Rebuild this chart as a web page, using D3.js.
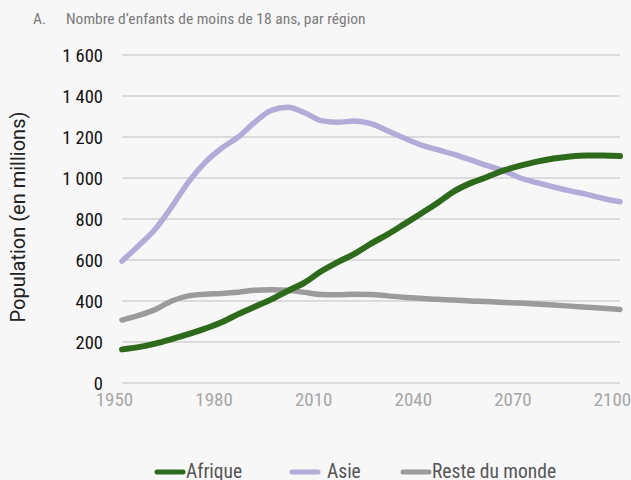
<!DOCTYPE html>
<html lang="fr">
<head>
<meta charset="utf-8">
<title>Nombre d'enfants de moins de 18 ans, par région</title>
<script src="https://d3js.org/d3.v7.min.js"></script>
<style>
  body { margin: 0; background: #f7f7f7; }
  svg { display: block; }
  .cond { font-family: "Roboto Condensed", "Liberation Sans Narrow", "Arial Narrow", Roboto, sans-serif; font-stretch: condensed; }
</style>
</head>
<body>
<div id="chart"></div>
<script>
// années (pas de 5 ans)
var years = d3.range(1950, 2101, 5);

// millions d'enfants de moins de 18 ans
var afrique = [164, 175, 192, 214, 238, 265, 296, 336, 372, 408, 450, 490, 545, 590, 630, 680,
  725, 775, 826, 878, 935, 975, 1005, 1037, 1060, 1080, 1095, 1105, 1110, 1110, 1107];
var asie = [595, 670, 750, 860, 980, 1075, 1145, 1200, 1272, 1330, 1345, 1318, 1280, 1272, 1278, 1265,
  1230, 1195, 1162, 1138, 1115, 1088, 1060, 1035, 1000, 977, 956, 937, 920, 900, 884];
var reste = [307, 330, 358, 400, 425, 433, 437, 443, 452, 455, 452, 442, 432, 430, 433, 432,
  425, 418, 413, 408, 405, 400, 397, 393, 390, 385, 380, 375, 370, 365, 359];

var seriesNames = ["Afrique", "Asie", "Reste du monde"];
var seriesColors = ["#2e6a1c", "#b1acd8", "#9b9b9b"];
var yTicks = [0, 200, 400, 600, 800, 1000, 1200, 1400, 1600];
var xTicks = [1950, 1980, 2010, 2040, 2070, 2100];

var W = 631, H = 480;
var margin = { top: 55, right: 11, bottom: 97, left: 122 };
var width = W - margin.left - margin.right,
    height = H - margin.top - margin.bottom;

var svg = d3.select("#chart").append("svg")
    .attr("width", W)
    .attr("height", H);

svg.append("rect").attr("width", W).attr("height", H).attr("fill", "#f7f7f7");

// titre
svg.append("text").attr("class", "cond")
    .attr("x", 33).attr("y", 24)
    .attr("fill", "#7a7a7a").style("font-size", "15.5px")
    .text("A.");
svg.append("text").attr("class", "cond")
    .attr("x", 66).attr("y", 24)
    .attr("fill", "#7a7a7a").style("font-size", "15.5px")
    .text("Nombre d\u2019enfants de moins de 18 ans, par région");

var g = svg.append("g")
    .attr("transform", "translate(" + margin.left + "," + margin.top + ")");

var x = d3.scaleLinear().domain([1950, 2100]).range([0, width]);
var y = d3.scaleLinear().domain([0, 1600]).range([height, 0]);

// grille
g.selectAll(".grid")
    .data(yTicks)
    .enter()
    .append("line")
    .attr("x1", 0)
    .attr("x2", width)
    .attr("y1", function(d) { return y(d); })
    .attr("y2", function(d) { return y(d); })
    .attr("stroke", "#d2d2d2")
    .attr("stroke-width", 1.3);

// axe y
var yAxis = g.append("g")
    .call(d3.axisLeft(y).tickValues(yTicks).tickSize(0).tickPadding(19)
      .tickFormat(function(d) { return d >= 1000 ? d3.format(",")(d).replace(",", " ") : d; }));
yAxis.select(".domain").remove();
yAxis.selectAll("text").attr("class", "cond")
    .attr("fill", "#111").style("font-size", "18.5px").attr("dy", "0.36em");

// axe x
var xAxis = g.append("g")
    .attr("transform", "translate(0," + height + ")")
    .call(d3.axisBottom(x).tickValues(xTicks).tickSize(0).tickPadding(10).tickFormat(d3.format("d")));
xAxis.select(".domain").remove();
xAxis.selectAll("text").attr("class", "cond")
    .attr("fill", "#a6a6a6").style("font-size", "19px").attr("dx", "-8");

// titre axe y
svg.append("text")
    .attr("transform", "translate(25," + (margin.top + height / 2 - 2) + ") rotate(-90)")
    .attr("text-anchor", "middle")
    .attr("fill", "#222")
    .style("font-family", "Roboto, sans-serif")
    .style("font-size", "20px")
    .text("Population (en millions)");

// courbes
var line = d3.line()
    .x(function(d, i) { return x(years[i]); })
    .y(function(d) { return y(d); })
    .curve(d3.curveMonotoneX);

[reste, asie, afrique].forEach(function(s) {
  var idx = s === afrique ? 0 : (s === asie ? 1 : 2);
  g.append("path")
    .datum(s)
    .attr("fill", "none")
    .attr("stroke", seriesColors[idx])
    .attr("stroke-width", idx === 0 ? 6 : 5.5)
    .attr("stroke-linecap", "round")
    .attr("stroke-linejoin", "round")
    .attr("d", line);
});

// légende
var legendX = [157, 292, 403];
var legend = svg.append("g");
seriesNames.forEach(function(name, i) {
  legend.append("line")
    .attr("x1", legendX[i]).attr("x2", legendX[i] + 26)
    .attr("y1", 472).attr("y2", 472)
    .attr("stroke", seriesColors[i])
    .attr("stroke-width", 5)
    .attr("stroke-linecap", "round");
  legend.append("text").attr("class", "cond")
    .attr("x", legendX[i] + (i === 1 ? 35 : 29)).attr("y", 478)
    .attr("fill", "#555").style("font-size", "19.5px")
    .text(name);
});
</script>
</body>
</html>
